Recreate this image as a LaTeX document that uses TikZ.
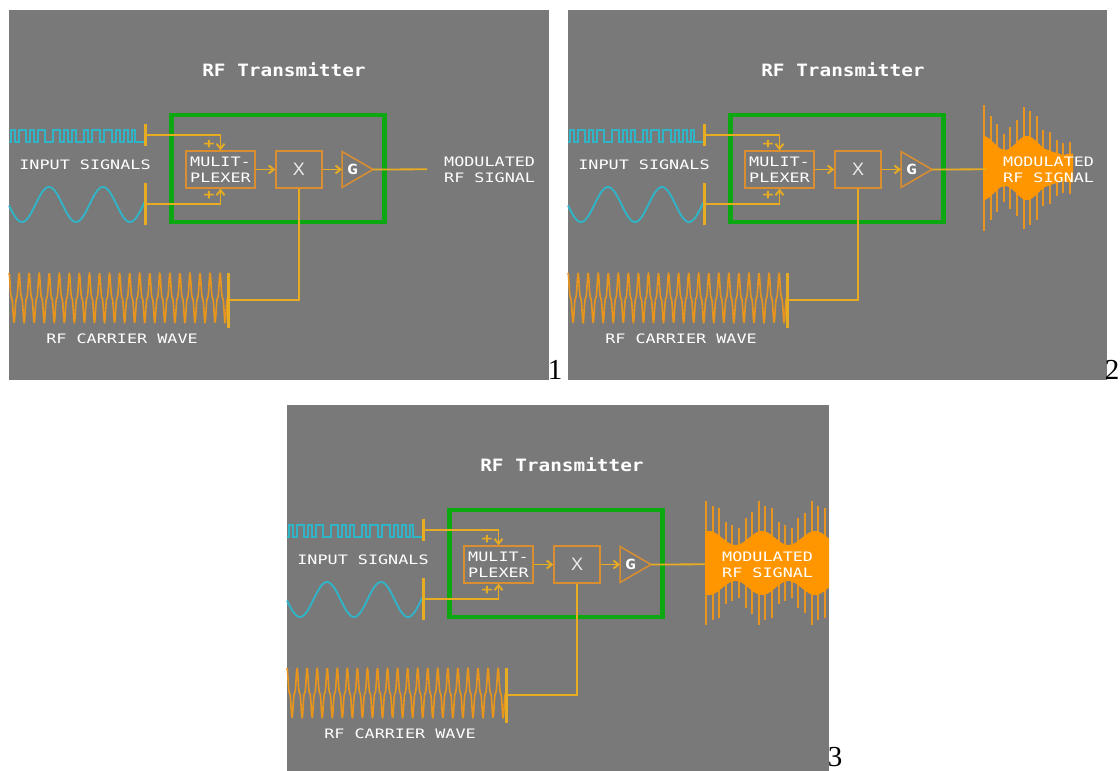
\documentclass[tikz,border=0pt]{standalone}
\usepackage{fontspec}
\usetikzlibrary{arrows.meta}
\newfontfamily\pixfont[FakeStretch=1.29]{DejaVu Sans Mono}
\newfontfamily\titlefont[FakeStretch=1.14]{DejaVu Sans Mono Bold}
\newfontfamily\numfont{Liberation Serif}
\newfontfamily\xfont{Liberation Sans}
\definecolor{panelgray}{HTML}{797979}
\definecolor{boxgreen}{HTML}{0CA812}
\definecolor{wireyellow}{HTML}{E8AC22}
\definecolor{boxorange}{HTML}{DB8E30}
\definecolor{waveorange}{HTML}{E8951E}
\definecolor{coreorange}{HTML}{FF9600}
\definecolor{sigcyan}{HTML}{30B4C8}
\tikzset{
  panel/.style={fill=panelgray,draw=none},
  greenbox/.style={draw=boxgreen,line width=4.5,minimum width=213,minimum height=107,inner sep=0},
  blockbox/.style={draw=boxorange,line width=1.5,inner sep=0,minimum height=37},
  ampshape/.style={draw=boxorange,line width=1.5,line join=miter},
  amplabel/.style={inner sep=0,font=\fontsize{14}{14}\bfseries\pixfont,text=white},
  barbox/.style={fill=wireyellow,inner sep=0,minimum width=3.4,draw=none},
  wire/.style={draw=wireyellow,line width=1.8},
  arrowwire/.style={wire,-{Straight Barb[length=5,width=8,line width=1.9]}},
  label/.style={text=white,font=\fontsize{13}{16}\pixfont,inner sep=0,align=left},
  titlelabel/.style={text=white,font=\fontsize{17}{17}\titlefont,inner sep=0},
  pluslabel/.style={text=wireyellow,font=\fontsize{14}{14}\bfseries\pixfont,inner sep=0},
  cornerlabel/.style={text=black,font=\fontsize{29}{29}\numfont,inner sep=0},
  sigwave/.style={draw=sigcyan,line width=1.9},
  carrierwave/.style={draw=waveorange,line width=1.6,line join=round},
  spike/.style={draw=waveorange,line width=1.9},
}
% #1 start x, #2 end x, #3 crest x, #4 period, #5 taper start
\newcommand{\modwave}[5]{%
  \begin{scope}
    \clip (9,10) rectangle (#2,380);
    \foreach \k in {0,...,19}{
      \pgfmathsetmacro{\xx}{#1+1+6.6*\k}
      \pgfmathsetmacro{\hh}{(50+13*cos((\xx-#3)/#4*360))*(1-0.08*mod(\k,2))*min(1,max(0.45,1-(\xx-#5)/25))}
      \draw[spike] (\xx,168-\hh) -- (\xx,168+\hh);
    }
    \fill[coreorange] plot[domain=#1:#2,samples=70] (\x,{168-(25+7*cos((\x-#3)/#4*360))*min(1,max(0.45,1-(\x-#5)/25))})
      -- plot[domain=#2:#1,samples=70] (\x,{168+(25+7*cos((\x-#3)/#4*360))*min(1,max(0.45,1-(\x-#5)/25))}) -- cycle;
  \end{scope}
}
% #1 prefix, #2 dx, #3 dy, #4 panel right edge, #5 extra drawing
\newcommand{\rfpanel}[5]{%
\begin{scope}[shift={(#2,#3)},name prefix=#1-]
  \fill[panel] (9,10) rectangle (#4,380);
  #5
  \node[titlelabel] (title) at (284,70) {RF Transmitter};
  \node[greenbox] (tx) at (278,168.5) {};
  % input signals
  \draw[sigwave] (9,142) -- (11,142) -- (11,130) -- (15,130) -- (15,142) -- (19,142) -- (19,130) -- (26,130) -- (26,142) -- (30,142) -- (30,130) -- (34,130) -- (34,142) -- (38,142) -- (38,130) -- (45,130) -- (45,142) -- (53,142) -- (53,130) -- (60,130) -- (60,142) -- (64,142) -- (64,130) -- (68,130) -- (68,142) -- (72,142) -- (72,130) -- (76,130) -- (76,142) -- (84,142) -- (84,130) -- (88,130) -- (88,142) -- (92,142) -- (92,130) -- (100,130) -- (100,142) -- (104,142) -- (104,130) -- (112,130) -- (112,142) -- (116,142) -- (116,130) -- (120,130) -- (120,142) -- (124,142) -- (124,130) -- (128,130) -- (128,142) -- (132,142) -- (132,130) -- (135,130) -- (135,142) -- (145,142);
  \draw[sigwave] plot[domain=9:145,samples=120] (\x,{204.5-17.5*cos((\x-49)/54*360)});
  \node[barbox,minimum height=22] (bara) at (145.5,135) {};
  \node[barbox,minimum height=42] (barb) at (145.5,204) {};
  \node[label] (inlabel) at (85,165) {INPUT SIGNALS};
  % carrier
  \draw[carrierwave] plot[domain=9:228,samples=450] (\x,{298-25/1.3*(cos(mod(\x+1,10.05)/10.05*360)+0.3*cos(3*mod(\x+1,10.05)/10.05*360))});
  \node[barbox,minimum height=55] (barc) at (228.5,300) {};
  \node[label] (carrierlabel) at (122,339) {RF CARRIER WAVE};
  % blocks
  \node[blockbox,minimum width=69,text=white,font=\fontsize{13}{16}\pixfont,align=left] (mux) at (220.5,169.5) {MULIT-\\PLEXER};
  \node[blockbox,minimum width=46,text=white!85!panelgray,font=\fontsize{18}{18}\xfont] (mixer) at (299,169.5) {X};
  \coordinate (ampin) at (342,169.5);
  \coordinate (ampapex) at (373,169.5);
  \coordinate (out) at (427,169.3);
  \draw[ampshape] (342,151.5) -- (ampapex) -- (342,187.5) -- cycle;
  \node[amplabel] (amp) at (352.5,169.5) {G};
  % connectors
  \draw[arrowwire] (bara.east) -| (mux.north);
  \draw[arrowwire] (barb.east) -| (mux.south);
  \draw[wire] (barc.east) -| (mixer.south);
  \draw[arrowwire] (mux.east) -- (mixer.west);
  \draw[arrowwire] (mixer.east) -- (ampin);
  \draw[wire] (ampapex) -- (out);
  \node[pluslabel] (plusa) at (209,144) {+};
  \node[pluslabel] (plusb) at (209,195) {+};
  \node[label,anchor=west] (outlabel) at (444,169.5) {MODULATED\\RF SIGNAL};
\end{scope}}
\begin{document}
\begin{tikzpicture}[x=1pt,y=-1pt]
  \useasboundingbox (0,0) rectangle (1120,771);
  \fill[white] (0,0) rectangle (1120,771);
  \rfpanel{pa}{0}{0}{549}{}
  \rfpanel{pb}{559}{0}{548}{\modwave{424}{514}{468}{44}{490}}
  \begin{scope}
    \clip (0,0) rectangle (1120,771);
    \rfpanel{pc}{278}{395}{551}{\modwave{427}{551}{431}{53}{900}}
  \end{scope}
  \node[cornerlabel] (numa) at (555,370) {1};
  \node[cornerlabel] (numb) at (1112,370) {2};
  \node[cornerlabel] (numc) at (835,757) {3};
\end{tikzpicture}
\end{document}
